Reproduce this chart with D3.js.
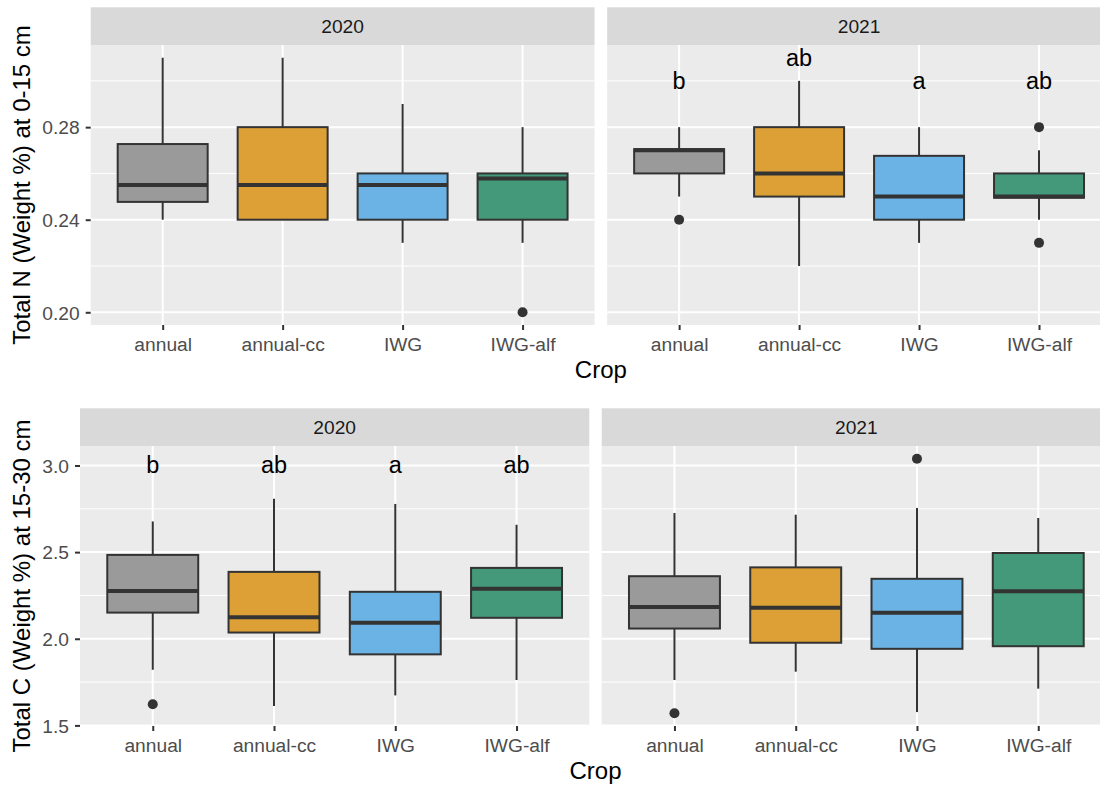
<!DOCTYPE html>
<html>
<head>
<meta charset="utf-8">
<script src="https://cdn.jsdelivr.net/npm/d3@7/dist/d3.min.js"></script>
<style>
  html, body { margin: 0; padding: 0; background: #ffffff; }
  svg { display: block; font-family: "Liberation Sans", Arial, Helvetica, sans-serif; }
</style>
</head>
<body>
<svg id="chart" width="1100" height="787"></svg>
<script>
// Crops and facet years
const crops = ["annual", "annual-cc", "IWG", "IWG-alf"];
const years = ["2020", "2021"];
const cropColors = ["#9A9A9A", "#DDA036", "#6BB3E4", "#43997A"];

// Box summaries per crop: [lower whisker, Q1, median, Q3, upper whisker]
// Total N (weight %) at 0-15 cm
const n2020 = [
  [0.240, 0.2477, 0.255, 0.2727, 0.310],
  [0.240, 0.240, 0.255, 0.280, 0.310],
  [0.230, 0.240, 0.255, 0.260, 0.290],
  [0.230, 0.240, 0.2578, 0.260, 0.280]
];
const n2020Outliers = [[], [], [], [0.200]];
const n2020Letters = [];
const n2020LetterY = [];

const n2021 = [
  [0.250, 0.260, 0.270, 0.2705, 0.280],
  [0.220, 0.250, 0.260, 0.280, 0.300],
  [0.230, 0.240, 0.250, 0.2676, 0.280],
  [0.240, 0.2495, 0.250, 0.260, 0.270]
];
const n2021Outliers = [[0.240], [], [], [0.280, 0.230]];
const n2021Letters = ["b", "ab", "a", "ab"];
const n2021LetterY = [0.30, 0.31, 0.30, 0.30];

// Total C (weight %) at 15-30 cm
const c2020 = [
  [1.821, 2.151, 2.276, 2.484, 2.677],
  [1.612, 2.036, 2.124, 2.386, 2.808],
  [1.673, 1.910, 2.092, 2.271, 2.778],
  [1.762, 2.121, 2.288, 2.409, 2.658]
];
const c2020Outliers = [[1.622], [], [], []];
const c2020Letters = ["b", "ab", "a", "ab"];
const c2020LetterY = [3.0, 3.0, 3.0, 3.0];

const c2021 = [
  [1.762, 2.059, 2.184, 2.361, 2.726],
  [1.810, 1.977, 2.179, 2.412, 2.716],
  [1.577, 1.942, 2.150, 2.346, 2.755],
  [1.712, 1.957, 2.274, 2.495, 2.697]
];
const c2021Outliers = [[1.570], [], [3.039], []];
const c2021Letters = [];
const c2021LetterY = [];

// Axis ticks and titles
const nTicks = [0.20, 0.24, 0.28];
const cTicks = [1.5, 2.0, 2.5, 3.0];
const nTitle = "Total N (Weight %) at 0-15 cm";
const cTitle = "Total C (Weight %) at 15-30 cm";
const xTitle = "Crop";

const svg = d3.select("#chart");

// Draw one row of two facets sharing a y scale
function drawRow(opts) {
  const { panels, ticks, tickFmt, title, top, stripH, panelH, left, right, gap } = opts;
  const panelW = (right - left - gap) / 2;
  const panelTop = top + stripH;
  const panelBottom = panelTop + panelH;

  // y domain from all values (boxes, outliers, letters) with 5% expansion
  const all = [];
  panels.forEach(p => {
    p.stats.forEach(s => all.push(...s));
    p.outliers.forEach(o => all.push(...o));
    all.push(...p.letterY);
  });
  const lo = d3.min(all), hi = d3.max(all), pad = (hi - lo) * 0.05;
  const y = d3.scaleLinear().domain([lo - pad, hi + pad]).range([panelBottom, panelTop]);

  // minor breaks halfway between major breaks
  const step = ticks[1] - ticks[0];
  const minor = [];
  for (let v = ticks[0] - step / 2; v <= hi + pad + 1e-9; v += step) {
    if (v >= lo - pad && !ticks.some(t => Math.abs(t - v) < 1e-9)) minor.push(v);
  }

  panels.forEach((p, i) => {
    const x0 = left + i * (panelW + gap);
    const x = d3.scalePoint().domain(crops).range([x0, x0 + panelW]).padding(0.6);
    const bw = x.step() * 0.75;
    const g = svg.append("g");

    // strip
    g.append("rect").attr("x", x0).attr("y", top).attr("width", panelW).attr("height", stripH)
      .attr("fill", "#D9D9D9");
    g.append("text").attr("x", x0 + panelW / 2).attr("y", top + stripH / 2 + 6.8)
      .attr("text-anchor", "middle").attr("font-size", 19.2).attr("fill", "#1A1A1A").text(p.year);

    // panel background and grid
    g.append("rect").attr("x", x0).attr("y", panelTop).attr("width", panelW).attr("height", panelH)
      .attr("fill", "#EBEBEB");
    g.selectAll(".minor").data(minor).enter().append("line")
      .attr("x1", x0).attr("x2", x0 + panelW).attr("y1", d => y(d)).attr("y2", d => y(d))
      .attr("stroke", "#FFFFFF").attr("stroke-width", 1);
    g.selectAll(".major").data(ticks).enter().append("line")
      .attr("x1", x0).attr("x2", x0 + panelW).attr("y1", d => y(d)).attr("y2", d => y(d))
      .attr("stroke", "#FFFFFF").attr("stroke-width", 2);
    g.selectAll(".vmajor").data(crops).enter().append("line")
      .attr("x1", d => x(d)).attr("x2", d => x(d)).attr("y1", panelTop).attr("y2", panelBottom)
      .attr("stroke", "#FFFFFF").attr("stroke-width", 2);

    // x axis
    const xAxis = d3.axisBottom(x).tickSize(5).tickPadding(4);
    const xa = g.append("g").attr("transform", `translate(0,${panelBottom})`).call(xAxis);
    xa.select(".domain").remove();
    xa.selectAll(".tick line").attr("stroke", "#333333").attr("stroke-width", 2);
    xa.selectAll(".tick text").attr("font-size", 19.2).attr("fill", "#4D4D4D")
      .attr("font-family", null).attr("dy", null).attr("y", 26);

    // y axis on the first facet only
    if (i === 0) {
      const yAxis = d3.axisLeft(y).tickValues(ticks).tickFormat(tickFmt).tickSize(5).tickPadding(6);
      const ya = g.append("g").attr("transform", `translate(${x0},0)`).call(yAxis);
      ya.select(".domain").remove();
      ya.selectAll(".tick line").attr("stroke", "#333333").attr("stroke-width", 2);
      ya.selectAll(".tick text").attr("font-size", 19.2).attr("fill", "#4D4D4D")
        .attr("font-family", null).attr("dy", "0.35em");
    }

    // boxes
    p.stats.forEach((s, k) => {
      const cx = x(crops[k]);
      const [wl, q1, med, q3, wh] = s;
      const bg = g.append("g");
      bg.append("line").attr("x1", cx).attr("x2", cx).attr("y1", y(q3)).attr("y2", y(wh))
        .attr("stroke", "#333333").attr("stroke-width", 2);
      bg.append("line").attr("x1", cx).attr("x2", cx).attr("y1", y(q1)).attr("y2", y(wl))
        .attr("stroke", "#333333").attr("stroke-width", 2);
      bg.append("rect").attr("x", cx - bw / 2).attr("y", y(q3)).attr("width", bw)
        .attr("height", y(q1) - y(q3)).attr("fill", cropColors[k])
        .attr("stroke", "#333333").attr("stroke-width", 2);
      bg.append("line").attr("x1", cx - bw / 2).attr("x2", cx + bw / 2)
        .attr("y1", y(med)).attr("y2", y(med)).attr("stroke", "#333333").attr("stroke-width", 4);
      p.outliers[k].forEach(o => {
        bg.append("circle").attr("cx", cx).attr("cy", y(o)).attr("r", 5).attr("fill", "#333333");
      });
    });

    // significance letters
    p.letters.forEach((t, k) => {
      g.append("text").attr("x", x(crops[k])).attr("y", y(p.letterY[k]) + 8)
        .attr("text-anchor", "middle").attr("font-size", 23.5).attr("fill", "#000000").text(t);
    });
  });

  // axis titles
  svg.append("text")
    .attr("transform", `translate(30,${(panelTop + panelBottom) / 2}) rotate(-90)`)
    .attr("text-anchor", "middle").attr("font-size", 24).attr("fill", "#000000").text(title);
  svg.append("text").attr("x", (left + right) / 2).attr("y", panelBottom + 53)
    .attr("text-anchor", "middle").attr("font-size", 24).attr("fill", "#000000").text(xTitle);
}

drawRow({
  panels: [
    { year: years[0], stats: n2020, outliers: n2020Outliers, letters: n2020Letters, letterY: n2020LetterY },
    { year: years[1], stats: n2021, outliers: n2021Outliers, letters: n2021Letters, letterY: n2021LetterY }
  ],
  ticks: nTicks, tickFmt: d3.format(".2f"), title: nTitle,
  top: 7.3, stripH: 37.7, panelH: 280, left: 90.7, right: 1111, gap: 12.6
});

drawRow({
  panels: [
    { year: years[0], stats: c2020, outliers: c2020Outliers, letters: c2020Letters, letterY: c2020LetterY },
    { year: years[1], stats: c2021, outliers: c2021Outliers, letters: c2021Letters, letterY: c2021LetterY }
  ],
  ticks: cTicks, tickFmt: d3.format(".1f"), title: cTitle,
  top: 408.3, stripH: 37.7, panelH: 280, left: 80, right: 1111, gap: 12.4
});
</script>
</body>
</html>
